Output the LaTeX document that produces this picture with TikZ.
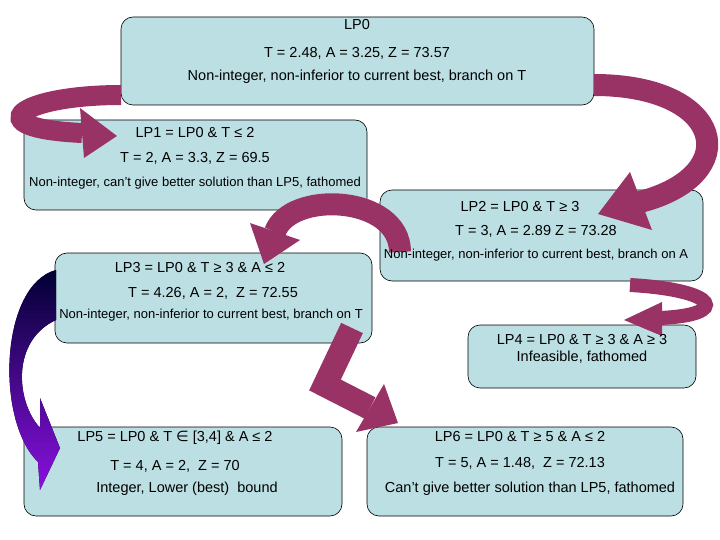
\documentclass[tikz,border=0pt]{standalone}
\usepackage{fontspec}
\setmainfont{Liberation Sans}
\newfontfamily\djv{DejaVu Sans}
\begin{document}
\begin{tikzpicture}[x=1pt,y=-1pt,
 box/.style={draw=black,line width=0.6pt,fill=boxc,rounded corners=12pt},
 t/.style={inner sep=0pt,font=\fontsize{14.5}{16}\selectfont},
 ts/.style={inner sep=0pt,font=\fontsize{13}{15}\selectfont},
 band/.style={draw=arrc,line width=#1},
 head/.style={fill=arrc}]
\definecolor{boxc}{HTML}{BCDFE3}
\definecolor{arrc}{HTML}{993366}
\definecolor{navyc}{HTML}{000033}
\definecolor{purc}{HTML}{8A10E0}
\useasboundingbox (0,0) rectangle (720,540);
% boxes
\path[box] (121,17) rectangle (594,105);
\path[box] (24,120) rectangle (367,210);
\path[box] (380,190) rectangle (703,281);
\path[box] (55,253) rectangle (372,343);
\path[box] (468,325) rectangle (696,388);
\path[box] (24,427) rectangle (342,516);
\path[box] (367,427) rectangle (683,516);
% arrows
\draw[band=20pt] (121,95) .. controls (20,95) and (-25,128) .. (82,133);
\fill[head] (80,108) -- (117,136) -- (84,158) -- cycle;
\draw[band=22pt] (594,85) .. controls (725,85) and (745,175) .. (640,202);
\fill[head] (630,172) -- (598,214) -- (652,230) -- cycle;
\draw[band=22pt] (400,252) .. controls (400,195) and (290,190) .. (275,232);
\fill[head] (250,223) -- (264,264) -- (300,240) -- cycle;
\draw[band=14pt] (630,285) .. controls (720,290) and (730,315) .. (660,318);
\fill[head] (662,302) -- (624,320) -- (662,336) -- cycle;
\draw[band=24pt,line join=miter] (352,328) -- (325,385) -- (370,408);
\fill[head] (384,384) -- (398,423) -- (356,432) -- cycle;
\fill[top color=navyc,bottom color=purc] (56,270) .. controls (0,285) and (-5,420) .. (38,462) -- (40,490) -- (60,448) -- (40,398) -- (40,428) .. controls (15,400) and (12,340) .. (56,320) -- cycle;
% texts
\node[t] (a1) at (357,25) {LP0};
\node[t] (a2) at (357,53) {T = 2.48, A = 3.25, Z = 73.57};
\node[t] (a3) at (357,77) {Non-integer, non-inferior to current best, branch on T};
\node[t] (b1) at (195,133) {LP1 = LP0 \& T ≤ 2};
\node[t] (b2) at (195,158) {T = 2, A = 3.3, Z = 69.5};
\node[ts] (b3) at (195,183) {Non-integer, can’t give better solution than LP5, fathomed};
\node[t] (c1) at (520,207) {LP2 = LP0 \& T ≥ 3};
\node[t] (c2) at (536,231) {T = 3, A = 2.89 Z = 73.28};
\node[ts] (c3) at (536,255) {Non-integer, non-inferior to current best, branch on A};
\node[t] (d1) at (200,268) {LP3 = LP0 \& T ≥ 3 \& A ≤ 2};
\node[t] (d2) at (213,293) {T = 4.26, A = 2,\ \ Z = 72.55};
\node[ts] (d3) at (211,315) {Non-integer, non-inferior to current best, branch on T};
\node[t] (e1) at (582,340) {LP4 = LP0 \& T ≥ 3 \& A ≥ 3};
\node[t] (e2) at (582,357) {Infeasible, fathomed};
\node[t] (f1) at (175,438) {LP5 = LP0 \& T {\djv ∈} [3,4] \& A ≤ 2};
\node[t] (f2) at (175,466) {T = 4, A = 2,\ \ Z = 70};
\node[t] (f3) at (187,489) {Integer, Lower (best)\ \ bound};
\node[t] (g1) at (520,437) {LP6 = LP0 \& T ≥ 5 \& A ≤ 2};
\node[t] (g2) at (520,463) {T = 5, A = 1.48,\ \ Z = 72.13};
\node[t] (g3) at (530,489) {Can’t give better solution than LP5, fathomed};
\end{tikzpicture}
\end{document}
